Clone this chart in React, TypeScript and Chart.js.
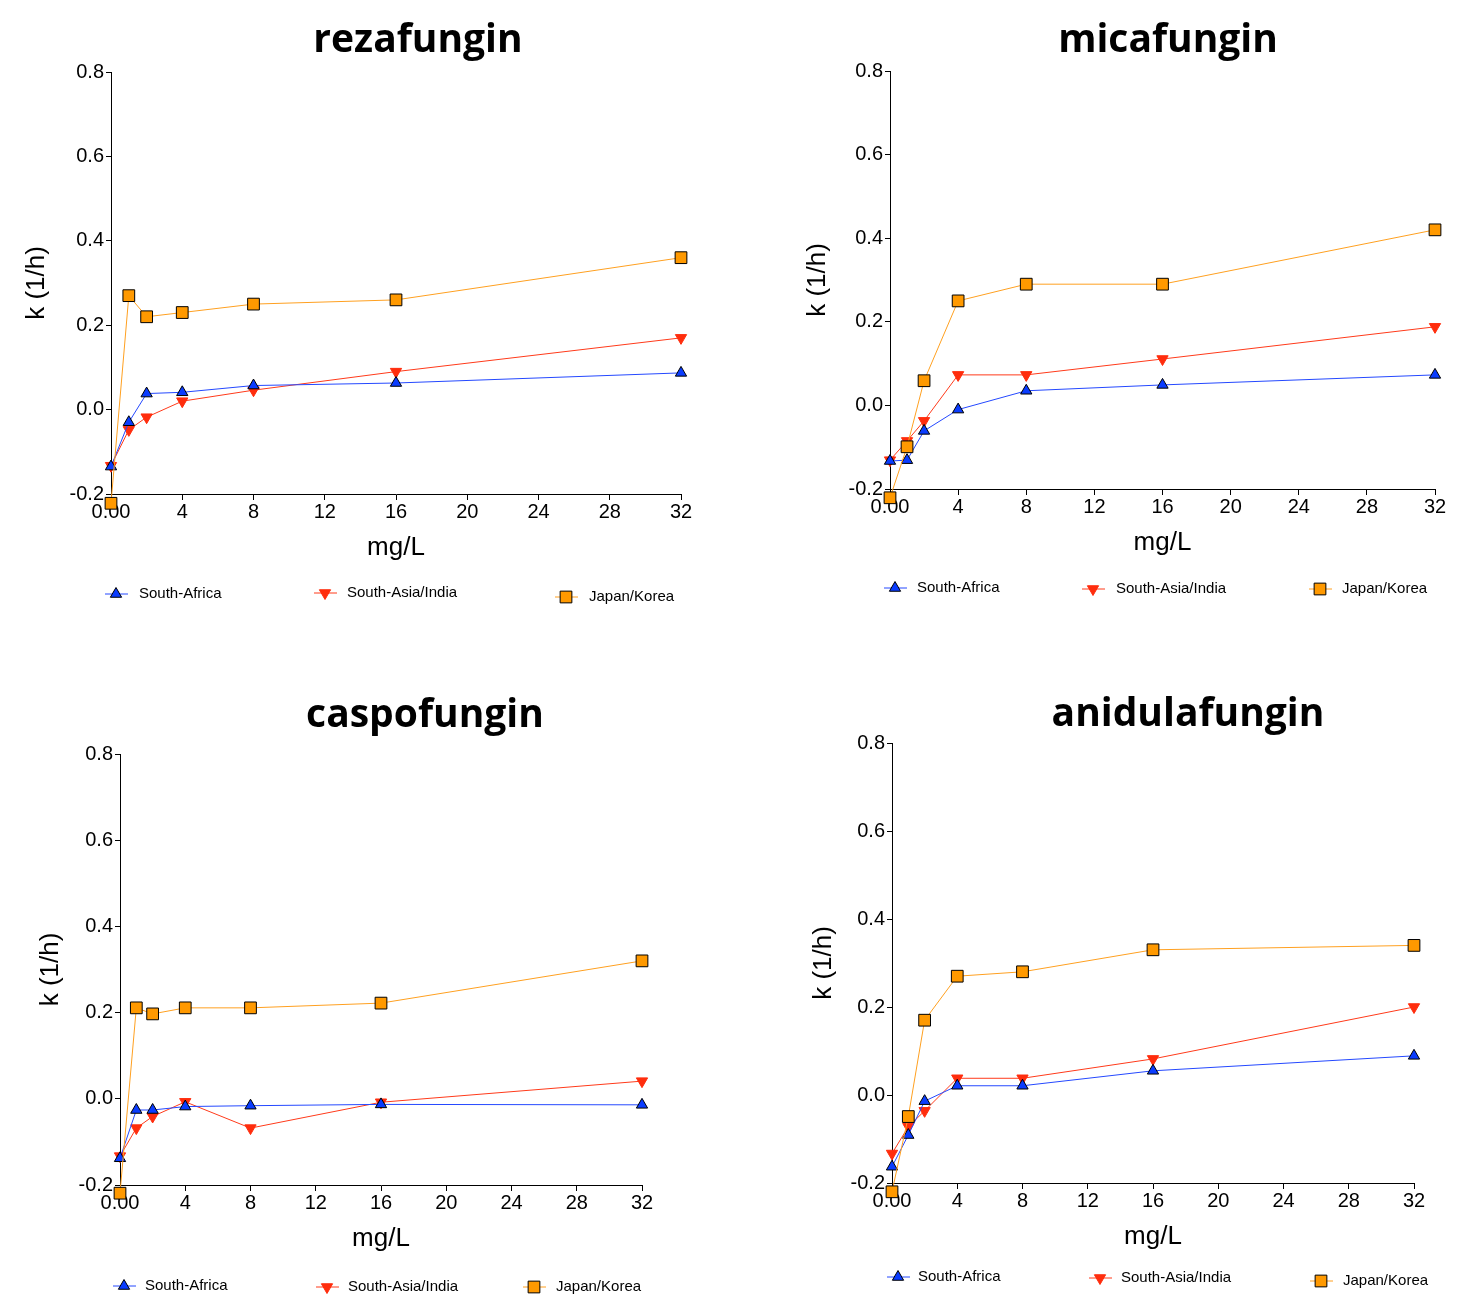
import React, { useEffect, useRef } from 'react';
import { Chart, registerables } from 'chart.js';

Chart.register(...registerables);

// ---------- data ----------
const concentrations = [0, 1, 2, 4, 8, 16, 32];
const seriesNames = ['South-Africa', 'South-Asia/India', 'Japan/Korea'];
const drugNames = ['rezafungin', 'micafungin', 'caspofungin', 'anidulafungin'];
const xTitle = 'mg/L';
const yTitle = 'k (1/h)';

const rezafunginSouthAfrica = [-0.135, -0.03, 0.038, 0.041, 0.057, 0.063, 0.087];
const rezafunginSouthAsia = [-0.133, -0.048, -0.018, 0.02, 0.046, 0.09, 0.17];
const rezafunginJapanKorea = [-0.222, 0.27, 0.22, 0.23, 0.25, 0.26, 0.36];

const micafunginSouthAfrica = [-0.133, -0.131, -0.061, -0.01, 0.035, 0.049, 0.073];
const micafunginSouthAsia = [-0.131, -0.085, -0.037, 0.073, 0.073, 0.111, 0.188];
const micafunginJapanKorea = [-0.221, -0.099, 0.059, 0.25, 0.29, 0.29, 0.42];

const caspofunginSouthAfrica = [-0.138, -0.026, -0.026, -0.018, -0.016, -0.013, -0.014];
const caspofunginSouthAsia = [-0.133, -0.068, -0.041, -0.007, -0.068, -0.008, 0.041];
const caspofunginJapanKorea = [-0.219, 0.211, 0.197, 0.211, 0.211, 0.222, 0.32];

const anidulafunginSouthAfrica = [-0.163, -0.091, -0.014, 0.021, 0.021, 0.055, 0.089];
const anidulafunginSouthAsia = [-0.133, -0.072, -0.036, 0.038, 0.038, 0.082, 0.2];
const anidulafunginJapanKorea = [-0.22, -0.049, 0.17, 0.27, 0.28, 0.33, 0.34];

const xMin = 0;
const xMax = 32;
const xStep = 4;
const yMin = -0.2;
const yMax = 0.8;
const yStep = 0.2;

// ---------- styles ----------
const FONT = '"Liberation Sans", Arial, sans-serif';
const TITLE_FONT = 'bold 39px "Open Sans", Lato, sans-serif';

const seriesStyles = [
  { line: '#2448ff', fill: '#0a3cff', stroke: '#000000', shape: 'triangle', rotation: 0, radius: 6.5 },
  { line: '#ff3a1a', fill: '#ff2d0d', stroke: '#ff2d0d', shape: 'triangle', rotation: 180, radius: 6.5 },
  { line: '#ffa020', fill: '#ff9900', stroke: '#000000', shape: 'rect', rotation: 0, radius: 8.3 },
];

type Geo = {
  left: number; top: number;
  padding: { left: number; right: number; top: number; bottom: number };
  yTitlePad: number;
  title: { x: number; y: number };
  legend: { mx: number; my: number; tx: number }[];
};

const panelGeos: Geo[] = [
  {
    left: 0, top: 0,
    padding: { left: 16, right: 57, top: 72, bottom: 83 },
    yTitlePad: 5.4,
    title: { x: 418, y: 52 },
    legend: [{ mx: 116, my: 594, tx: 139 }, { mx: 325, my: 593, tx: 347 }, { mx: 566, my: 597, tx: 589 }],
  },
  {
    left: 738, top: 0,
    padding: { left: 57, right: 41, top: 71, bottom: 88 },
    yTitlePad: 7.4,
    title: { x: 430, y: 52 },
    legend: [{ mx: 157, my: 588, tx: 179 }, { mx: 355, my: 589, tx: 378 }, { mx: 582, my: 589, tx: 604 }],
  },
  {
    left: 0, top: 647,
    padding: { left: 25, right: 96, top: 107, bottom: 39 },
    yTitlePad: 10.4,
    title: { x: 425, y: 80 },
    legend: [{ mx: 124, my: 639, tx: 145 }, { mx: 327, my: 640, tx: 348 }, { mx: 534, my: 640, tx: 556 }],
  },
  {
    left: 738, top: 647,
    padding: { left: 59, right: 62, top: 96, bottom: 41 },
    yTitlePad: 11.4,
    title: { x: 450, y: 79 },
    legend: [{ mx: 160, my: 630, tx: 180 }, { mx: 362, my: 631, tx: 383 }, { mx: 583, my: 634, tx: 605 }],
  },
];

const panelSeries = [
  [rezafunginSouthAfrica, rezafunginSouthAsia, rezafunginJapanKorea],
  [micafunginSouthAfrica, micafunginSouthAsia, micafunginJapanKorea],
  [caspofunginSouthAfrica, caspofunginSouthAsia, caspofunginJapanKorea],
  [anidulafunginSouthAfrica, anidulafunginSouthAsia, anidulafunginJapanKorea],
];

function drawMarker(ctx: CanvasRenderingContext2D, shape: string, x: number, y: number, r: number, rotationDeg: number) {
  ctx.beginPath();
  if (shape === 'triangle') {
    let rad = (rotationDeg * Math.PI) / 180;
    ctx.moveTo(x + Math.sin(rad) * r, y - Math.cos(rad) * r);
    rad += (2 * Math.PI) / 3;
    ctx.lineTo(x + Math.sin(rad) * r, y - Math.cos(rad) * r);
    rad += (2 * Math.PI) / 3;
    ctx.lineTo(x + Math.sin(rad) * r, y - Math.cos(rad) * r);
    ctx.closePath();
  } else {
    const s = Math.SQRT1_2 * r;
    ctx.rect(x - s, y - s, 2 * s, 2 * s);
  }
}

const decorPlugin = {
  id: 'panelDecor',
  afterDraw(chart: any, _args: any, opts: any) {
    const ctx: CanvasRenderingContext2D = chart.ctx;
    ctx.save();
    // title
    ctx.font = TITLE_FONT;
    ctx.fillStyle = '#000';
    ctx.textAlign = 'center';
    ctx.textBaseline = 'alphabetic';
    ctx.fillText(opts.title, opts.titlePos.x, opts.titlePos.y);
    // legend
    ctx.font = `15px ${FONT}`;
    ctx.textAlign = 'left';
    ctx.textBaseline = 'middle';
    chart.data.datasets.forEach((ds: any, i: number) => {
      const p = opts.legend[i];
      const st = seriesStyles[i];
      ctx.strokeStyle = st.line;
      ctx.lineWidth = 1;
      ctx.beginPath();
      ctx.moveTo(p.mx - 11, p.my);
      ctx.lineTo(p.mx + 12, p.my);
      ctx.stroke();
      drawMarker(ctx, st.shape, p.mx, p.my, st.radius, st.rotation);
      ctx.fillStyle = st.fill;
      ctx.fill();
      ctx.strokeStyle = st.stroke;
      ctx.stroke();
      ctx.fillStyle = '#000';
      ctx.fillText(ds.label, p.tx, p.my);
    });
    ctx.restore();
  },
};

function Panel({ index }: { index: number }) {
  const ref = useRef<HTMLCanvasElement>(null);
  const geo = panelGeos[index];
  useEffect(() => {
    if (!ref.current) return;
    const order = [1, 2, 0];
    const datasets = panelSeries[index].map((vals, i) => {
      const st = seriesStyles[i];
      return {
        label: seriesNames[i],
        data: concentrations.map((x, j) => ({ x, y: vals[j] })),
        borderColor: st.line,
        borderWidth: 1,
        backgroundColor: st.fill,
        pointStyle: st.shape,
        pointRotation: st.rotation,
        pointRadius: st.radius,
        pointHoverRadius: st.radius,
        pointBackgroundColor: st.fill,
        pointBorderColor: st.stroke,
        pointBorderWidth: 1,
        tension: 0,
        fill: false,
        clip: false,
        order: order[i],
      };
    });
    const chart = new Chart(ref.current, {
      type: 'line',
      data: { datasets } as any,
      plugins: [decorPlugin],
      options: {
        responsive: false,
        animation: false,
        events: [],
        layout: { padding: geo.padding },
        plugins: {
          legend: { display: false },
          title: { display: false },
          tooltip: { enabled: false },
          panelDecor: { title: drugNames[index], titlePos: geo.title, legend: geo.legend },
        } as any,
        scales: {
          x: {
            type: 'linear',
            min: xMin,
            max: xMax,
            afterFit: (s: any) => { s.height = 70; },
            ticks: {
              stepSize: xStep,
              autoSkip: false,
              maxRotation: 0,
              color: '#000',
              padding: 0,
              font: { family: FONT, size: 20 },
              callback: (v: any) => (Number(v) === 0 ? '0.00' : String(v)),
            },
            grid: { display: true, drawOnChartArea: false, drawTicks: true, tickLength: 6, color: '#000', lineWidth: 1 },
            border: { display: true, color: '#000', width: 1 },
            title: { display: true, text: xTitle, color: '#000', font: { family: FONT, size: 26 }, padding: { top: 0, bottom: 0.5 } },
          },
          y: {
            type: 'linear',
            min: yMin,
            max: yMax,
            afterFit: (s: any) => { s.width = 95; },
            ticks: {
              stepSize: yStep,
              autoSkip: false,
              color: '#000',
              padding: 2,
              font: { family: FONT, size: 20 },
              callback: (v: any) => Number(v).toFixed(1),
            },
            grid: { display: true, drawOnChartArea: false, drawTicks: true, tickLength: 5, color: '#000', lineWidth: 1 },
            border: { display: true, color: '#000', width: 1 },
            title: { display: true, text: yTitle, color: '#000', font: { family: FONT, size: 26 }, padding: { top: geo.yTitlePad, bottom: 0 } },
          },
        },
      } as any,
    });
    return () => chart.destroy();
  }, [index]);
  return (
    <canvas
      ref={ref}
      width={738}
      height={647}
      style={{ position: 'absolute', left: geo.left, top: geo.top, width: 738, height: 647 }}
    />
  );
}

export default function App() {
  return (
    <div style={{ position: 'absolute', left: 0, top: 0, width: 1476, height: 1294, background: '#fff', overflow: 'hidden' }}>
      {panelGeos.map((_, i) => (
        <Panel key={i} index={i} />
      ))}
    </div>
  );
}
